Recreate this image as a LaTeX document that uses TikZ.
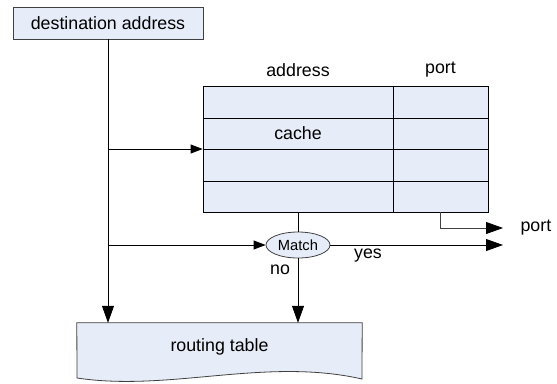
\documentclass[tikz,border=0pt]{standalone}
\usepackage{fontspec}
\setmainfont{Liberation Sans}
\usetikzlibrary{arrows.meta, positioning, shapes.geometric, backgrounds}
\definecolor{boxfill}{RGB}{230,236,248}
\definecolor{boxline}{RGB}{64,64,64}

\begin{document}
\begin{tikzpicture}[x=1pt, y=-1pt,
    font=\fontsize{17.8}{20}\selectfont,
    box/.style={draw=boxline, fill=boxfill, line width=0.8pt, inner sep=0pt},
    grid/.style={draw=black, line width=0.8pt},
    big/.style={-{Triangle[length=17pt, width=12pt, color=black]}, line width=0.8pt},
    small/.style={-{Triangle[length=12pt, width=9pt]}, line width=0.8pt}]
  \useasboundingbox (0,0) rectangle (557,383);

  \node (dest) [box, minimum width=190pt, minimum height=32pt] at (108,23) {destination address};

  % cache table
  \node (cache) [box, draw=black, minimum width=285pt, minimum height=126pt] at (345.5,149) {};
  \node (addrhead) at (298,70) {address};
  \node (porthead) at (440.5,70) {port};
  \node (cachelbl) at (298,133) {cache};
  \draw [grid] (393,0 |- cache.north) -- (393,0 |- cache.south);
  \foreach \y in {118,149,181}
    \draw [grid] (cache.west |- 0,\y) -- (cache.east |- 0,\y);

  \node (match) [box, ellipse, minimum width=64pt, minimum height=26pt,
                 font=\fontsize{14.7}{16}\selectfont] at (298,245) {Match};

  % routing table, wavy bottom
  \node (rt) [minimum width=285pt, minimum height=48pt, inner sep=0pt] at (219.5,347) {routing table};
  \begin{scope}[on background layer]
    \draw [box] (rt.north west) -- (rt.north east) -- (362,379)
      .. controls (265,357) and (170,392) .. (77,378) -- cycle;
  \end{scope}

  \coordinate (portout) at (503,228);
  \coordinate (yesout) at (503,245);
  \node (portlbl) [right = 14pt of portout] {port};
  \node (yes) at (368,256) {yes};
  \node (no) at (280,270) {no};

  \draw [big] (dest) -- (dest |- rt.north);
  \draw [small] (dest |- cache.west) -- (cache.west);
  \draw [small] (dest |- match.west) -- (match.west);
  \draw [grid] (addrhead |- cache.south) -- (match.north);
  \draw [big, draw=boxline] (porthead |- cache.south) |- (portout);
  \draw [big] (match.east) -- (yesout);
  \draw [big] (match) -- (match |- rt.north);
\end{tikzpicture}
\end{document}
